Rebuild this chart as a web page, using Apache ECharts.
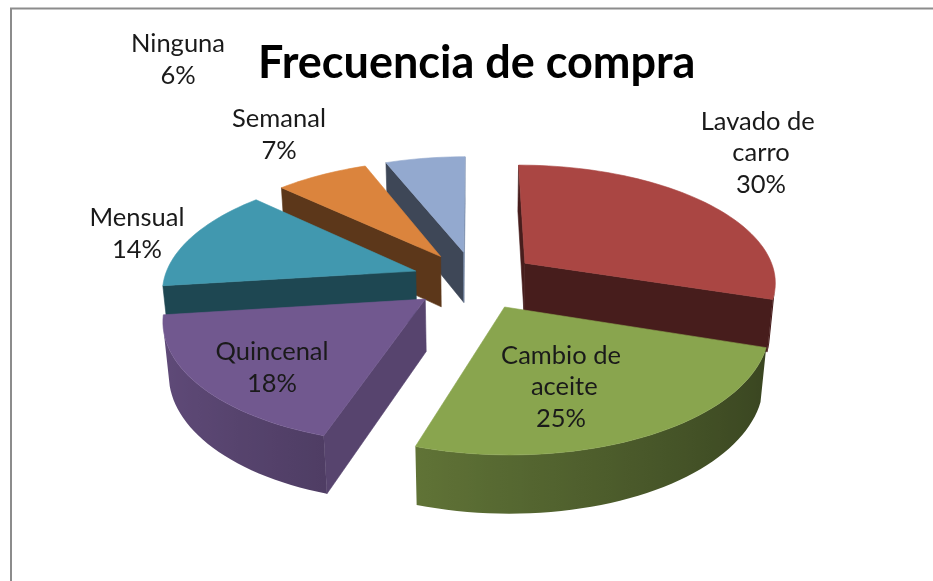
<!DOCTYPE html>
<html>
<head>
<meta charset="utf-8">
<title>Frecuencia de compra</title>
<script src="https://cdn.jsdelivr.net/npm/echarts@6/dist/echarts.min.js"></script>
<style>
html, body { margin: 0; padding: 0; background: #fff; }
#chart { width: 933px; height: 581px; }
</style>
</head>
<body>
<div id="chart"></div>
<script>
// datos de la encuesta (porcentaje por respuesta)
const categories = ['Lavado de carro', 'Cambio de aceite', 'Quincenal', 'Mensual', 'Semanal', 'Ninguna'];
const shares = [30, 25, 18, 14, 7, 6];
const colors = ['#AA4643', '#89A54E', '#71588F', '#4198AF', '#DB843D', '#93A9CF'];

// label placement, offset from the pie centre in px (Excel moved them by hand)
const labelOffsets = [[286, -127], [86, 107], [-203, 88], [-338, -46], [-196, -145], [-297, -220]];

// 3D view: tilt, perspective distance, thickness and explode are in pie-radius units
const view = { cx: 475, cy: 280, scale: 252, sinA: 0.465, cosA: 0.885, dist: 5.98, depth: 0.235, explode: 0.25 };

const total = shares.reduce((a, b) => a + b, 0);
const startAngles = [];
let acc = 0;
shares.forEach(function (v) {
    startAngles.push(acc / total * Math.PI * 2);
    acc += v;
});
const midAngles = shares.map((v, i) => startAngles[i] + v / total * Math.PI);
// farthest slice first
const drawRank = {};
midAngles.map((a, i) => [Math.cos(a), i])
    .sort((p, q) => q[0] - p[0])
    .forEach((p, r) => { drawRank[p[1]] = r; });

function project(u, y, v) {
    const d = v * view.cosA - y * view.sinA;
    const k = view.dist / (view.dist + d);
    const Y = y * view.cosA + v * view.sinA;
    return [view.cx + k * u * view.scale, view.cy - k * Y * view.scale];
}

function shade(hex, f) {
    const n = parseInt(hex.slice(1), 16);
    const c = [(n >> 16) & 255, (n >> 8) & 255, n & 255].map(x => Math.round(Math.min(255, x * f)));
    return 'rgb(' + c.join(',') + ')';
}

function facing(nu, nv, pu, pv) {
    // camera sits at (0, dist*sinA, -dist*cosA)
    return nu * (0 - pu) + nv * (-view.dist * view.cosA - pv) > 0;
}

function renderItem(params, api) {
    const i = api.value(0);
    const val = api.value(1);
    const a0 = startAngles[i];
    const a1 = a0 + val / total * Math.PI * 2;
    const am = (a0 + a1) / 2;
    const ou = view.explode * Math.sin(am);
    const ov = view.explode * Math.cos(am);
    const h = -view.depth;
    const base = colors[i];
    const z = drawRank[i] * 10;
    const children = [];

    function poly(points, fill, z2) {
        children.push({
            type: 'polygon',
            shape: { points: points },
            style: { fill: fill, stroke: fill, lineWidth: 0.6 },
            z2: z2
        });
    }

    // radial cut faces
    [[a0, -1], [a1, 1]].forEach(function (c) {
        const a = c[0];
        const nu = c[1] * Math.cos(a);
        const nv = -c[1] * Math.sin(a);
        if (!facing(nu, nv, ou, ov)) return;
        const ru = ou + Math.sin(a), rv = ov + Math.cos(a);
        poly([project(ou, 0, ov), project(ru, 0, rv), project(ru, h, rv), project(ou, h, ov)],
            shade(base, 0.42 + 0.37 * Math.max(0, nu)), z + 1);
    });

    // curved outer wall: the visible stretch as one polygon, shaded left to right
    const steps = Math.max(2, Math.ceil((a1 - a0) / (Math.PI / 90)));
    const angles = [];
    for (let s = 0; s <= steps; s++) angles.push(a0 + (a1 - a0) * s / steps);
    const vis = angles.filter(t => facing(Math.sin(t), Math.cos(t), ou + Math.sin(t), ov + Math.cos(t)));
    if (vis.length > 1) {
        const upper = vis.map(t => project(ou + Math.sin(t), 0, ov + Math.cos(t)));
        const lower = vis.map(t => project(ou + Math.sin(t), h, ov + Math.cos(t))).reverse();
        const xs = upper.map(p => p[0]);
        const xMin = Math.min.apply(null, xs), xMax = Math.max.apply(null, xs);
        const stops = vis.map((t, k) => ({
            offset: xMax > xMin ? (xs[k] - xMin) / (xMax - xMin) : 0,
            color: shade(base, 0.63 - 0.22 * Math.sin(t))
        })).sort((p, q) => p.offset - q.offset);
        const grad = new echarts.graphic.LinearGradient(xMin, 0, xMax, 0, stops, true);
        children.push({
            type: 'polygon',
            shape: { points: upper.concat(lower) },
            style: { fill: grad },
            z2: z + 1
        });
    }

    // top face
    const top = [project(ou, 0, ov)].concat(angles.map(t => project(ou + Math.sin(t), 0, ov + Math.cos(t))));
    poly(top, base, z + 2);

    // label
    const pct = Math.round(val / total * 100) + '%';
    children.push({
        type: 'text',
        x: view.cx + labelOffsets[i][0],
        y: view.cy + labelOffsets[i][1],
        z2: 200,
        style: {
            text: categories[i] + '\n' + pct,
            width: 125,
            overflow: 'break',
            fontFamily: 'Lato, "Noto Sans", sans-serif',
            fontSize: 25.5,
            lineHeight: 31.5,
            fill: '#1a1a1a',
            align: 'center',
            verticalAlign: 'middle'
        }
    });

    return { type: 'group', children: children };
}

const chart = echarts.init(document.getElementById('chart'));
chart.setOption({
    backgroundColor: '#ffffff',
    animation: false,
    title: {
        text: 'Frecuencia de compra',
        left: 258,
        top: 41,
        padding: 0,
        textStyle: {
            fontFamily: 'Lato, "Noto Sans", sans-serif',
            fontSize: 45,
            fontWeight: 'bold',
            color: '#000'
        }
    },
    graphic: [{
        type: 'rect',
        shape: { x: 11, y: 8.5, width: 1000, height: 1000 },
        style: { fill: 'none', stroke: '#8c8c8c', lineWidth: 2 },
        silent: true
    }],
    series: [{
        type: 'custom',
        coordinateSystem: 'none',
        renderItem: renderItem,
        data: shares.map((v, i) => [i, v])
    }]
});
window.addEventListener('resize', function () {
    chart.resize();
});
</script>
</body>
</html>
